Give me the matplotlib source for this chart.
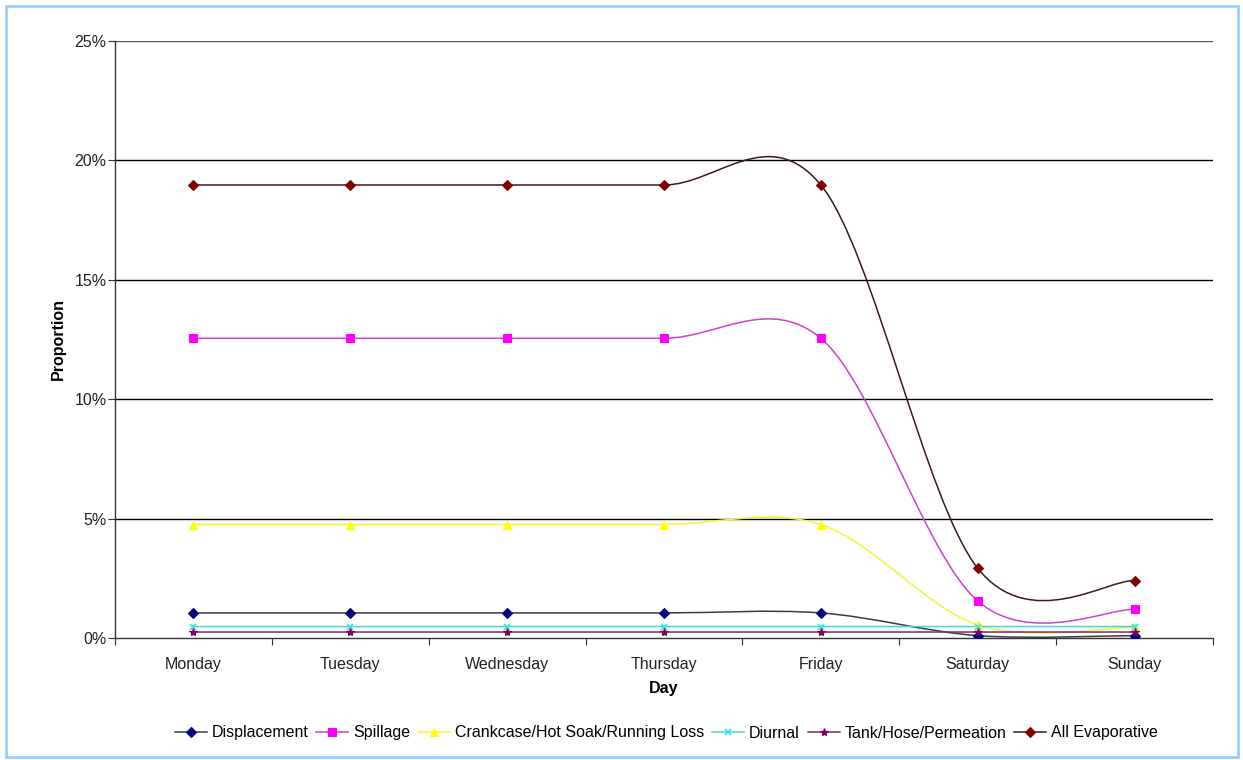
import matplotlib
matplotlib.use("Agg")
import matplotlib.pyplot as plt
from matplotlib.path import Path
from matplotlib.patches import PathPatch, Rectangle
from matplotlib.lines import Line2D
import numpy as np

plt.rcParams['font.family'] = ['Liberation Sans', 'DejaVu Sans']

days = ["Monday", "Tuesday", "Wednesday", "Thursday", "Friday", "Saturday", "Sunday"]

displacement = [1.05, 1.05, 1.05, 1.05, 1.05, 0.10, 0.10]
spillage = [12.55, 12.55, 12.55, 12.55, 12.55, 1.55, 1.20]
crankcase = [4.75, 4.75, 4.75, 4.75, 4.75, 0.55, 0.45]
diurnal = [0.48, 0.48, 0.48, 0.48, 0.48, 0.48, 0.48]
tank_hose = [0.25, 0.25, 0.25, 0.25, 0.25, 0.25, 0.25]
all_evaporative = [18.97, 18.97, 18.97, 18.97, 18.97, 2.92, 2.40]

series = [
    ("Displacement", displacement, "#3a3a4a", "#000080", "D", 5),
    ("Spillage", spillage, "#d040d0", "#ff00ff", "s", 5.5),
    ("Crankcase/Hot Soak/Running Loss", crankcase, "#f4f43a", "#ffff00", "^", 6),
    ("Diurnal", diurnal, "#40d8d0", "#40e0e0", "x", 5),
    ("Tank/Hose/Permeation", tank_hose, "#7a2a6a", "#800060", "*", 6),
    ("All Evaporative", all_evaporative, "#3a1a1a", "#800000", "D", 5),
]

FS = 11.5


def smooth_path(xs, ys):
    """Cubic Bezier spline through the points (Catmull-Rom style tangents)."""
    pts = np.column_stack([xs, ys]).astype(float)
    n = len(pts)
    verts = [pts[0]]
    codes = [Path.MOVETO]
    for i in range(n - 1):
        p_prev = pts[i - 1] if i > 0 else pts[i]
        p0 = pts[i]
        p1 = pts[i + 1]
        p_next = pts[i + 2] if i + 2 < n else pts[i + 1]
        c1 = p0 + (p1 - p_prev) / 6.0
        c2 = p1 - (p_next - p0) / 6.0
        verts += [c1, c2, p1]
        codes += [Path.CURVE4] * 3
    return Path(verts, codes)


fig = plt.figure(figsize=(12.43, 7.60), dpi=100)
ax = fig.add_axes([115 / 1243, 1 - 638 / 760, 1098 / 1243, 597 / 760])

x = np.arange(len(days))
ax.set_xlim(-0.5, len(days) - 0.5)
ax.set_ylim(0, 25)

# horizontal gridlines
for g in [5, 10, 15, 20, 25]:
    ax.axhline(g, color="#000000" if g < 25 else "#555555", lw=1.0, zorder=1)

handles = []
for name, vals, lcol, mcol, mk, ms in series:
    patch = PathPatch(smooth_path(x, vals), facecolor="none", edgecolor=lcol,
                      lw=1.1, zorder=3)
    ax.add_patch(patch)
    mew = 1.2 if mk == "x" else 0.8
    ax.plot(x, vals, ls="none", marker=mk, ms=ms, color=mcol, mec=mcol,
            mew=mew, zorder=4)
    handles.append(Line2D([], [], color=lcol, lw=1.1, marker=mk, ms=ms,
                          mfc=mcol, mec=mcol, mew=mew, label=name))

# axes styling
for side in ["top", "right"]:
    ax.spines[side].set_visible(False)
for side in ["left", "bottom"]:
    ax.spines[side].set_color("#333333")
    ax.spines[side].set_linewidth(1.0)

ax.set_yticks(np.arange(0, 26, 5))
ax.set_yticklabels([f"{v}%" for v in range(0, 26, 5)], fontsize=FS, color="#222222")
ax.set_xticks(np.arange(-0.5, len(days), 1.0))
ax.set_xticklabels([])
ax.set_xticks(x, minor=True)
ax.set_xticklabels(days, minor=True, fontsize=FS, color="#222222")
ax.tick_params(axis="x", which="major", direction="out", length=5, color="#333333")
ax.tick_params(axis="x", which="minor", length=0, pad=14)
ax.tick_params(axis="y", direction="out", length=5, color="#333333", pad=1)

ax.set_ylabel("Proportion", fontsize=FS, fontweight="bold", labelpad=6)
ax.set_xlabel("Day", fontsize=FS, fontweight="bold", labelpad=6)

fig.legend(handles=handles, loc="center", bbox_to_anchor=(0.536, 1 - 733 / 760),
           ncol=6, frameon=False, fontsize=FS, handlelength=2.0,
           handletextpad=0.3, columnspacing=0.5)

# outer chart border
fig.add_artist(Rectangle((6 / 1243, 3 / 760), 1232 / 1243, 751 / 760,
                         transform=fig.transFigure, fill=False,
                         edgecolor="#99ccff", lw=2.0))

fig.savefig("out.png", dpi=100, facecolor="white")
